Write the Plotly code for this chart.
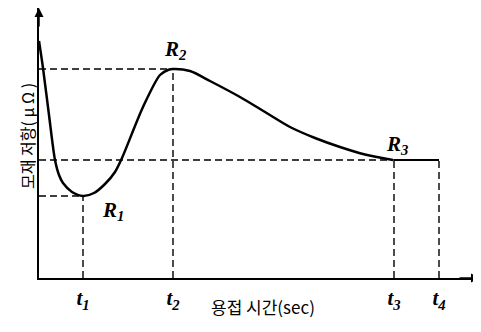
import plotly.graph_objects as go

# Curve (schematic dynamic resistance vs. welding time)
time_x = [0.0, 0.4, 1.0, 1.6, 2.0, 2.4, 3.3, 4.4, 5.5, 6.6, 7.6, 8.3, 10.4, 12.1, 12.9,
          13.4, 15.1, 17.1, 20.1, 22.6, 25.1, 27.6, 30.1, 32.6, 35.4]
resist_y = [23.7, 21.0, 16.3, 11.8, 10.3, 9.5, 8.6, 8.2, 8.5, 9.4, 10.6, 12.0, 17.1, 20.3, 20.8,
            20.9, 20.7, 19.7, 18.1, 16.6, 15.1, 14.0, 13.1, 12.35, 11.8]

t_vals = [4.4, 13.4, 35.5, 40.0]
t_labels = ["t1", "t2", "t3", "t4"]
r_vals = [8.2, 20.9, 11.8]
r_labels = ["R1", "R2", "R3"]

X_MAX = 43.9
Y_MAX = 27.0

# page has an 8px body margin; figure coords = screen - 8
W, H = 481, 332
ml, mr, mt, mb = 31, 11, 0, 62
pw, ph = W - ml - mr, H - mt - mb


def paper_xy(sx, sy):
    fx, fy = sx - 8, sy - 8
    return (fx - ml) / pw, (H - mb - fy) / ph


fig = go.Figure()

fig.add_trace(go.Scatter(x=time_x, y=resist_y, mode="lines",
                         line=dict(color="black", width=2.5, shape="spline", smoothing=0.8),
                         hoverinfo="skip"))
fig.add_trace(go.Scatter(x=[t_vals[2], t_vals[3]], y=[r_vals[2], r_vals[2]], mode="lines",
                         line=dict(color="black", width=2), hoverinfo="skip"))

dash = dict(color="black", width=1.4, dash="7px,4px")
for tx, ry in [(t_vals[0], r_vals[0]), (t_vals[1], r_vals[1]), (t_vals[2], r_vals[2])]:
    fig.add_trace(go.Scatter(x=[0, tx], y=[ry, ry], mode="lines", line=dash, hoverinfo="skip"))
for tx, ry in [(t_vals[0], r_vals[0]), (t_vals[1], r_vals[1]), (t_vals[2], r_vals[2]), (t_vals[3], r_vals[2])]:
    fig.add_trace(go.Scatter(x=[tx, tx], y=[0, ry], mode="lines", line=dash, hoverinfo="skip"))

serif = "Liberation Serif, Times New Roman, serif"
ticktext = ["<b><i>t</i></b><sub><b><i>%s</i></b></sub>" % s[1] for s in t_labels]

r_pos = [(t_vals[0] + 3.0, r_vals[0] - 1.5), (t_vals[1] + 0.2, r_vals[1] + 1.9), (t_vals[2] + 0.3, r_vals[2] + 1.5)]
for (ax, ay), lab in zip(r_pos, r_labels):
    fig.add_annotation(x=ax, y=ay, xref="x", yref="y", showarrow=False,
                       text="<b><i>R</i></b><sub><b><i>%s</i></b></sub>" % lab[1],
                       font=dict(family=serif, size=21, color="black"))

fig.add_annotation(x=X_MAX + 0.2, y=0, ax=X_MAX - 2, ay=0, xref="x", yref="y", axref="x", ayref="y",
                   showarrow=True, arrowhead=2, arrowsize=1.2, arrowwidth=1.5, arrowcolor="black", text="")
fig.add_annotation(x=0, y=Y_MAX, ax=0, ay=Y_MAX - 2, xref="x", yref="y", axref="x", ayref="y",
                   showarrow=True, arrowhead=2, arrowsize=1.2, arrowwidth=1.5, arrowcolor="black", text="")

kfont = "Noto Sans CJK KR"
px_, py_ = paper_xy(263, 321)
fig.add_annotation(x=px_, y=py_, xref="paper", yref="paper", text="용접 시간(sec)", showarrow=False,
                   font=dict(family=kfont, size=17, color="black"))
px_, py_ = paper_xy(13, 136)
fig.add_annotation(x=px_, y=py_, xref="paper", yref="paper", textangle=-90, text="모재 저항( μ Ω )",
                   showarrow=False, font=dict(family=kfont, size=16, color="black"))

fig.update_layout(
    width=W, height=H, margin=dict(l=ml, r=mr, t=mt, b=mb),
    paper_bgcolor="white", plot_bgcolor="white", showlegend=False,
    xaxis=dict(range=[0, X_MAX], showgrid=False, zeroline=False, showline=True,
               linecolor="black", linewidth=2, tickvals=t_vals, ticktext=ticktext,
               ticks="", tickfont=dict(family=serif, size=21, color="black")),
    yaxis=dict(range=[0, Y_MAX], showgrid=False, zeroline=False, showline=True,
               linecolor="black", linewidth=2, showticklabels=False, ticks=""),
)

fig.write_html("out.html")
